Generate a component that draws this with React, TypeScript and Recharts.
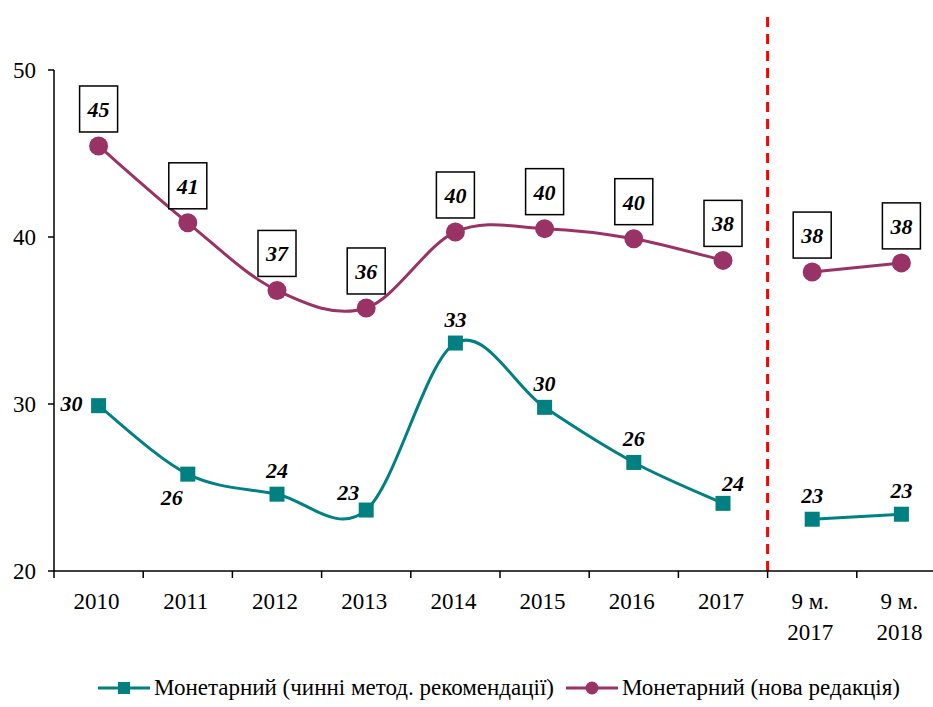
import React from 'react';
import { LineChart, Line, XAxis, YAxis, ReferenceLine, Legend } from 'recharts';

const categories = ['2010', '2011', '2012', '2013', '2014', '2015', '2016', '2017', '9 м.|2017', '9 м.|2018'];
const currentMethod = [29.9, 25.8, 24.6, 23.65, 33.65, 29.8, 26.5, 24.05, 23.1, 23.4];
const newEdition = [45.45, 40.85, 36.8, 35.75, 40.3, 40.5, 39.9, 38.6, 37.9, 38.45];
const currentLabels = ['30', '26', '24', '23', '33', '30', '26', '24', '23', '23'];
const newLabels = ['45', '41', '37', '36', '40', '40', '40', '38', '38', '38'];
// where the teal value sits relative to its marker
const currentLabelPos = ['left', 'belowLeft', 'above', 'aboveLeft', 'above', 'above', 'above', 'aboveRight', 'above', 'above'];
const yTicks = [20, 30, 40, 50];
const splitAt = 8; // break between annual and 9-month data

const TEAL = '#008080';
const PLUM = '#993366';
const FONT = '"Liberation Serif", "Times New Roman", serif';

const data = categories.map((c, i) => ({
  x: i,
  cat: c,
  curA: i < splitAt ? currentMethod[i] : null,
  curB: i >= splitAt ? currentMethod[i] : null,
  newA: i < splitAt ? newEdition[i] : null,
  newB: i >= splitAt ? newEdition[i] : null,
}));

const xTicks: number[] = [];
for (let i = -0.5; i <= categories.length - 0.5; i += 0.5) xTicks.push(i);

// Excel-like smoothed line (Catmull-Rom)
function smoothCurve(context: any) {
  let pts: [number, number][] = [];
  return {
    areaStart() {},
    areaEnd() {},
    lineStart() {
      pts = [];
    },
    point(x: number, y: number) {
      pts.push([+x, +y]);
    },
    lineEnd() {
      if (!pts.length) return;
      context.moveTo(pts[0][0], pts[0][1]);
      for (let i = 0; i < pts.length - 1; i++) {
        const p0 = pts[i - 1] || pts[i];
        const p1 = pts[i];
        const p2 = pts[i + 1];
        const p3 = pts[i + 2] || p2;
        context.bezierCurveTo(
          p1[0] + (p2[0] - p0[0]) / 6,
          p1[1] + (p2[1] - p0[1]) / 6,
          p2[0] - (p3[0] - p1[0]) / 6,
          p2[1] - (p3[1] - p1[1]) / 6,
          p2[0],
          p2[1]
        );
      }
    },
  };
}

function XTick(props: any) {
  const { x, y, payload } = props;
  const v = payload.value;
  if (!Number.isInteger(v)) {
    return <line x1={x} x2={x} y1={y} y2={y + 7} stroke="#000" strokeWidth={1.5} />;
  }
  const lines = categories[v].split('|');
  return (
    <text x={x - 2} y={y} textAnchor="middle" fontFamily={FONT} fontSize={23} fill="#000">
      {lines.map((l, k) => (
        <tspan key={k} x={x - 2} dy={k === 0 ? 38 : 31}>
          {l}
        </tspan>
      ))}
    </text>
  );
}

function SquareDot(props: any) {
  const { cx, cy, index } = props;
  if (cx == null || cy == null) return <g key={index} />;
  return <rect key={index} x={cx - 7.5} y={cy - 7.5} width={15} height={15} fill={TEAL} />;
}

function CurrentLabel(props: any) {
  const { x, y, value, index } = props;
  if (value == null || x == null) return null;
  const pos = currentLabelPos[index];
  let dx = 0;
  let dy = -24;
  if (pos === 'left') { dx = -27; dy = -3; }
  if (pos === 'belowLeft') { dx = -16; dy = 23; }
  if (pos === 'aboveLeft') { dx = -18; dy = -18; }
  if (pos === 'aboveRight') { dx = 10; dy = -20; }
  return (
    <text x={x + dx} y={y + dy} dy={8} textAnchor="middle" fontFamily={FONT} fontSize={22}
      fontWeight="bold" fontStyle="italic" fill="#000">
      {currentLabels[index]}
    </text>
  );
}

function NewLabel(props: any) {
  const { x, y, value, index } = props;
  if (value == null || x == null) return null;
  const w = 38;
  const h = 46;
  const cy = y - 14 - h / 2;
  return (
    <g>
      <rect x={x - w / 2} y={cy - h / 2} width={w} height={h} fill="#fff" stroke="#000" strokeWidth={1.5} />
      <text x={x} y={cy} dy={8} textAnchor="middle" fontFamily={FONT} fontSize={22}
        fontWeight="bold" fontStyle="italic" fill="#000">
        {newLabels[index]}
      </text>
    </g>
  );
}

function LegendBox() {
  const item = (color: string, marker: 'square' | 'circle', text: string, gap: number) => (
    <span style={{ display: 'inline-flex', alignItems: 'center', marginRight: gap }}>
      <svg width={52} height={16} style={{ marginRight: 4 }}>
        <line x1={0} x2={52} y1={8} y2={8} stroke={color} strokeWidth={3} />
        {marker === 'square' ? (
          <rect x={20} y={2} width={12} height={12} fill={color} />
        ) : (
          <circle cx={26} cy={8} r={6.5} fill={color} />
        )}
      </svg>
      {text}
    </span>
  );
  return (
    <div style={{ height: 56, paddingTop: 24, boxSizing: 'border-box', fontFamily: FONT, fontSize: 23,
      lineHeight: '26px', color: '#000', textAlign: 'left', whiteSpace: 'nowrap', paddingLeft: 98 }}>
      {item(TEAL, 'square', 'Монетарний (чинні метод. рекомендації)', 12)}
      {item(PLUM, 'circle', 'Монетарний (нова редакція)', 0)}
    </div>
  );
}

export default function App() {
  return (
    <div style={{ position: 'absolute', left: 0, top: 0, width: 933, height: 707, overflow: 'hidden', background: '#fff' }}>
      <LineChart width={960} height={707} data={data} margin={{ top: 70, right: 14, bottom: 0, left: 0 }}>
        <XAxis
          dataKey="x"
          type="number"
          domain={[-0.5, categories.length - 0.5]}
          ticks={xTicks}
          interval={0}
          tickLine={false}
          tickSize={0}
          tickMargin={0}
          tick={<XTick />}
          axisLine={{ stroke: '#000', strokeWidth: 1.5 }}
          height={80}
        />
        <YAxis
          domain={[20, 50]}
          ticks={yTicks}
          interval={0}
          width={54}
          tickSize={6}
          tickMargin={12}
          tickLine={{ stroke: '#000', strokeWidth: 1.5 }}
          axisLine={{ stroke: '#000', strokeWidth: 1.5 }}
          tick={{ fill: '#000', fontSize: 23, fontFamily: FONT }}
        />
        <ReferenceLine
          segment={[{ x: splitAt - 0.5, y: 20 }, { x: splitAt - 0.5, y: 53.3 }]}
          ifOverflow="visible"
          stroke="#ff0000"
          strokeWidth={3}
          strokeDasharray="10 7"
        />
        <Line dataKey="curA" stroke={TEAL} strokeWidth={3} type={smoothCurve as any} dot={<SquareDot />}
          label={<CurrentLabel />} isAnimationActive={false} legendType="none" />
        <Line dataKey="curB" stroke={TEAL} strokeWidth={3} type={smoothCurve as any} dot={<SquareDot />}
          label={<CurrentLabel />} isAnimationActive={false} legendType="none" />
        <Line dataKey="newA" stroke={PLUM} strokeWidth={3} type={smoothCurve as any}
          dot={{ r: 9.5, fill: PLUM, stroke: 'none' }} label={<NewLabel />} isAnimationActive={false} legendType="none" />
        <Line dataKey="newB" stroke={PLUM} strokeWidth={3} type={smoothCurve as any}
          dot={{ r: 9.5, fill: PLUM, stroke: 'none' }} label={<NewLabel />} isAnimationActive={false} legendType="none" />
        <Legend verticalAlign="bottom" content={<LegendBox />} />
      </LineChart>
    </div>
  );
}
